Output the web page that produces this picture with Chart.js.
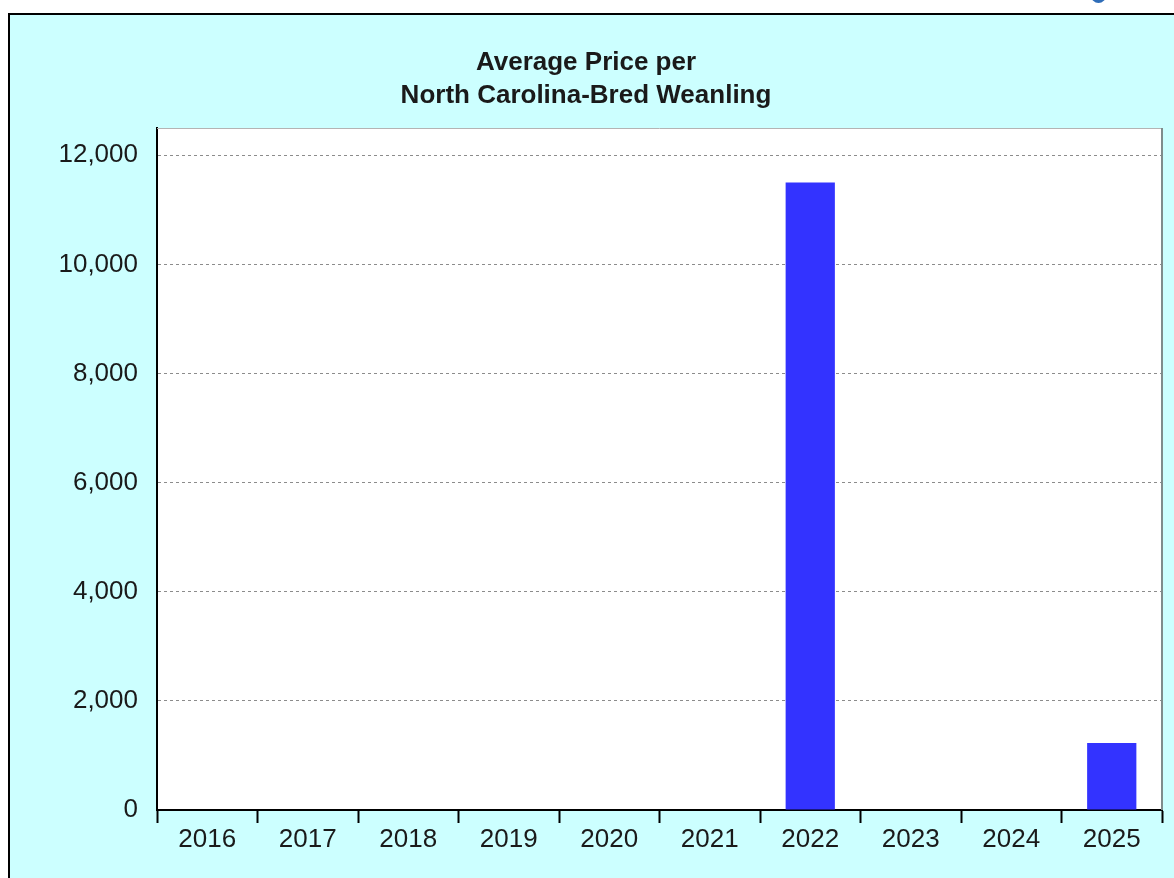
<!DOCTYPE html>
<html>
<head>
<meta charset="utf-8">
<title>Average Price per North Carolina-Bred Weanling</title>
<script src="https://cdn.jsdelivr.net/npm/chart.js@4.4.0/dist/chart.umd.min.js"></script>
<style>
  html, body { margin: 0; padding: 0; width: 1174px; height: 878px; overflow: hidden; background: #ffffff; }
  .marco { position: absolute; left: 8px; top: 13px; width: 1190px; height: 890px; background: #ccffff; border-left: 2px solid #000; border-top: 2px solid #000; }
  .icono { position: absolute; left: 1091px; top: -12px; width: 15px; height: 15px; border-radius: 50%; background: #2f6db8; }
  #grafico { position: absolute; left: 0; top: 0; }
</style>
</head>
<body>
<div class="icono"></div>
<div class="marco">
  <canvas id="grafico" width="1176" height="863"></canvas>
</div>
<script>
// Datos del grafico
const anios = ["2016", "2017", "2018", "2019", "2020", "2021", "2022", "2023", "2024", "2025"];
const precioPromedio = [null, null, null, null, null, null, 11500, null, null, 1230];
const titulo = ["Average Price per", "North Carolina-Bred Weanling"];
const ejeYTicks = [0, 2000, 4000, 6000, 8000, 10000, 12000];
const ejeYMax = 12500;

const fuente = "'Liberation Sans', Arial, sans-serif";

// Fondo blanco del area de trazado y bordes grises arriba / derecha
const fondoArea = {
  id: "fondoArea",
  beforeDraw(chart) {
    const { ctx, chartArea: a } = chart;
    ctx.save();
    ctx.fillStyle = "#ffffff";
    ctx.fillRect(a.left, a.top, a.right - a.left, a.bottom - a.top);
    ctx.restore();
  },
  afterDraw(chart) {
    const { ctx, chartArea: a } = chart;
    ctx.save();
    ctx.strokeStyle = "#b4b4b4";
    ctx.lineWidth = 1;
    ctx.beginPath();
    ctx.moveTo(a.left, a.top + 0.5);
    ctx.lineTo(a.right, a.top + 0.5);
    ctx.stroke();
    ctx.strokeStyle = "#7f8c8c";
    ctx.lineWidth = 2;
    ctx.beginPath();
    ctx.moveTo(a.right, a.top);
    ctx.lineTo(a.right, a.bottom);
    ctx.stroke();
    ctx.restore();
  }
};

const contexto = document.getElementById("grafico").getContext("2d");
new Chart(contexto, {
  type: "bar",
  data: {
    labels: anios,
    datasets: [{
      label: "Average Price",
      data: precioPromedio,
      backgroundColor: "#3333ff",
      borderWidth: 0,
      barPercentage: 0.49,
      categoryPercentage: 1
    }]
  },
  options: {
    responsive: false,
    animation: false,
    layout: { padding: { left: 0, right: 24, top: 0, bottom: 0 } },
    plugins: {
      legend: { display: false },
      tooltip: { enabled: false },
      title: {
        display: true,
        text: titulo,
        color: "#1a1a1a",
        font: { family: fuente, size: 26, weight: "bold", lineHeight: "33px" },
        padding: { top: 31, bottom: 16 }
      }
    },
    scales: {
      x: {
        offset: true,
        grid: {
          offset: true,
          drawOnChartArea: false,
          drawTicks: true,
          tickLength: 13,
          tickWidth: 2,
          tickColor: "#000000"
        },
        border: { display: true, color: "#000000", width: 2 },
        ticks: {
          color: "#1a1a1a",
          font: { family: fuente, size: 26 },
          padding: 1,
          maxRotation: 0,
          autoSkip: false
        },
        afterFit(scale) { scale.height = 68; }
      },
      y: {
        min: 0,
        max: ejeYMax,
        grid: {
          drawTicks: false,
          color: (c) => (c.tick && c.tick.value === 0 ? "rgba(0,0,0,0)" : "#8c8c8c"),
          lineWidth: 1
        },
        border: { display: true, color: "#000000", width: 2, dash: [3, 3] },
        ticks: {
          autoSkip: false,
          color: "#1a1a1a",
          font: { family: fuente, size: 26 },
          padding: 19,
          callback: (v) => v.toLocaleString("en-US")
        },
        // marcas fijas cada 2,000 (sin la de 12,500)
        afterBuildTicks(scale) {
          scale.ticks = ejeYTicks.map((v) => ({ value: v }));
        },
        afterFit(scale) { scale.width = 147; }
      }
    }
  },
  plugins: [fondoArea]
});
</script>
</body>
</html>
